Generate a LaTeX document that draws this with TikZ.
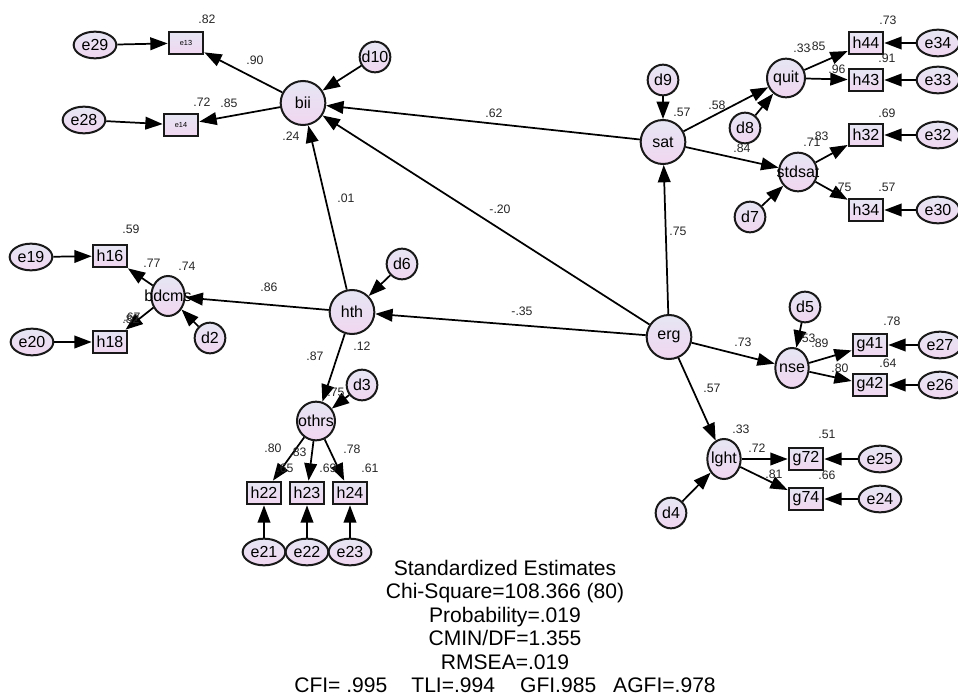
\documentclass[tikz,border=0pt]{standalone}
\usepackage{fontspec}
\setmainfont{Liberation Sans}
\usepackage{xcolor}
\usepackage{tikz}
\usetikzlibrary{shapes, arrows.meta, calc, positioning}

\definecolor{nodetop}{RGB}{230,230,244}
\definecolor{nodebot}{RGB}{240,214,240}

\begin{document}
\begin{tikzpicture}[x=0.75pt, y=-0.75pt, >={Triangle[length=13pt,width=9.5pt]},
    font=\fontsize{12}{13.5}\selectfont,
    amos/.style={draw=black!90, line width=1.5pt, top color=nodetop, bottom color=nodebot, inner sep=0pt},
    big/.style={amos, ellipse, minimum width=33.5pt, minimum height=33pt},
    mid/.style={amos, ellipse, minimum width=28.5pt, minimum height=29pt},
    slim/.style={amos, ellipse, minimum width=25pt, minimum height=30pt},
    dist/.style={amos, circle, minimum size=23pt},
    err/.style={amos, ellipse, minimum width=32pt, minimum height=20pt},
    obs/.style={amos, rectangle, minimum width=26pt, minimum height=17pt},
    est/.style={font=\fontsize{9.2}{10.5}\selectfont, text=black!85, inner sep=0pt},
    link/.style={->, line width=1.3pt}]
    \useasboundingbox (0,0) rectangle (958,696);

    % Latent variables
    \node [big, label=center:bii] (bii) at (303,103) {};
    \node [big, label=center:hth] (hth) at (352,312) {};
    \node [big, label=center:erg] (erg) at (669,337) {};
    \node [big, label=center:sat] (sat) at (663,142) {};
    \node [mid, label=center:quit] (quit) at (786,78) {};
    \node [mid, label=center:stdsat] (stdsat) at (798,172) {};
    \node [mid, label=center:othrs] (othrs) at (316,421) {};
    \node [slim, label=center:bdcms] (bdcms) at (168,296) {};
    \node [slim, label=center:nse] (nse) at (792,368) {};
    \node [slim, label=center:lght] (lght) at (724,459) {};

    % Disturbances
    \node [dist] (d10) at (375,57) {d10};
    \node [dist] (d9) at (663,80) {d9};
    \node [dist] (d8) at (745,128) {d8};
    \node [dist] (d7) at (750,217) {d7};
    \node [dist] (d6) at (402,264) {d6};
    \node [dist] (d5) at (805,307) {d5};
    \node [dist] (d4) at (671,513) {d4};
    \node [dist] (d3) at (362,385) {d3};
    \node [dist] (d2) at (210,338) {d2};

    % Observed items
    \node [obs, font=\fontsize{5.5}{6}\selectfont] (e13) at (186,43) {e13};
    \node [obs, font=\fontsize{5.5}{6}\selectfont] (e14) at (181,125) {e14};
    \node [obs] (h16) at (110,256) {h16};
    \node [obs] (h18) at (110,342) {h18};
    \node [obs] (h22) at (264,493) {h22};
    \node [obs] (h23) at (307,493) {h23};
    \node [obs] (h24) at (350,493) {h24};
    \node [obs] (h44) at (866,43) {h44};
    \node [obs] (h43) at (866,80) {h43};
    \node [obs] (h32) at (866,135) {h32};
    \node [obs] (h34) at (866,210) {h34};
    \node [obs] (g41) at (870,345) {g41};
    \node [obs] (g42) at (870,385) {g42};
    \node [obs] (g72) at (806,459) {g72};
    \node [obs] (g74) at (806,499) {g74};

    % Errors
    \node [err] (e29) at (95,45) {e29};
    \node [err] (e28) at (84,120) {e28};
    \node [err] (e19) at (31,257) {e19};
    \node [err] (e20) at (32,342) {e20};
    \node [err] (e21) at (264,552) {e21};
    \node [err] (e22) at (307,552) {e22};
    \node [err] (e23) at (350,552) {e23};
    \node [err] (e34) at (938,43) {e34};
    \node [err] (e33) at (938,80) {e33};
    \node [err] (e32) at (938,135) {e32};
    \node [err] (e30) at (938,210) {e30};
    \node [err] (e27) at (940,345) {e27};
    \node [err] (e26) at (940,385) {e26};
    \node [err] (e25) at (880,459) {e25};
    \node [err] (e24) at (880,499) {e24};

    % Structural paths
    \draw [link] (sat) -- (bii);
    \draw [link] (erg) -- (bii);
    \draw [link] (hth) -- (bii);
    \draw [link] (erg) -- (sat);
    \draw [link] (erg) -- (hth);
    \draw [link] (erg) -- (nse);
    \draw [link] (erg) -- (lght);
    \draw [link] (sat) -- (quit);
    \draw [link] (sat) -- (stdsat);
    \draw [link] (hth) -- (bdcms);
    \draw [link] (hth) -- (othrs);

    % Disturbance paths
    \draw [link] (d10) -- (bii);
    \draw [link] (d9) -- (sat);
    \draw [link] (d8) -- (quit);
    \draw [link] (d7) -- (stdsat);
    \draw [link] (d6) -- (hth);
    \draw [link] (d5) -- (nse);
    \draw [link] (d4) -- (lght);
    \draw [link] (d3) -- (othrs);
    \draw [link] (d2) -- (bdcms);

    % Loadings
    \draw [link] (bii) -- (e13);
    \draw [link] (bii) -- (e14);
    \draw [link] (bdcms) -- (h16);
    \draw [link] (bdcms) -- (h18);
    \draw [link] (othrs) -- (h22);
    \draw [link] (othrs) -- (h23);
    \draw [link] (othrs) -- (h24);
    \draw [link] (quit) -- (h44);
    \draw [link] (quit) -- (h43);
    \draw [link] (stdsat) -- (h32);
    \draw [link] (stdsat) -- (h34);
    \draw [link] (nse) -- (g41);
    \draw [link] (nse) -- (g42);
    \draw [link] (lght) -- (g72);
    \draw [link] (lght) -- (g74);

    % Error paths
    \draw [link] (e29) -- (e13);
    \draw [link] (e28) -- (e14);
    \draw [link] (e19) -- (h16);
    \draw [link] (e20) -- (h18);
    \draw [link] (e21) -- (h22);
    \draw [link] (e22) -- (h23);
    \draw [link] (e23) -- (h24);
    \draw [link] (e34) -- (h44);
    \draw [link] (e33) -- (h43);
    \draw [link] (e32) -- (h32);
    \draw [link] (e30) -- (h34);
    \draw [link] (e27) -- (g41);
    \draw [link] (e26) -- (g42);
    \draw [link] (e25) -- (g72);
    \draw [link] (e24) -- (g74);

    % Estimates
    \node [est] (r-e13) at (207,19) {.82};
    \node [est] (w-e13) at (255,60) {.90};
    \node [est] (r-e14) at (202,102) {.72};
    \node [est] (w-e14) at (229,103) {.85};
    \node [est] (r-bii) at (291,136) {.24};
    \node [est] (w-sat-bii) at (494,113) {.62};
    \node [est] (w-erg-bii) at (500,209) {-.20};
    \node [est] (w-hth-bii) at (346,198) {.01};
    \node [est] (r-sat) at (682,112) {.57};
    \node [est] (w-quit) at (717,105) {.58};
    \node [est] (w-stdsat) at (742,148) {.84};
    \node [est] (w-erg-sat) at (678,231) {.75};
    \node [est] (r-h44) at (888,20) {.73};
    \node [est] (r-quit) at (802,48) {.33};
    \node [est] (w-h44) at (817,46) {.85};
    \node [est] (r-h43) at (887,58) {.91};
    \node [est] (w-h43) at (837,69) {.96};
    \node [est] (r-h32) at (887,113) {.69};
    \node [est] (r-stdsat) at (812,142) {.71};
    \node [est] (w-h32) at (820,136) {.83};
    \node [est] (w-h34) at (843,187) {.75};
    \node [est] (r-h34) at (887,187) {.57};
    \node [est] (r-h16) at (131,229) {.59};
    \node [est] (w-h16) at (152,263) {.77};
    \node [est] (r-bdcms) at (187,266) {.74};
    \node [est] (w-bdcms) at (269,287) {.86};
    \node [est] (w-h18) at (131,319) {.82};
    \node [est] (r-h18) at (132,317) {.67};
    \node [est] (w-othrs) at (315,356) {.87};
    \node [est] (r-hth) at (362,346) {.12};
    \node [est] (w-erg-hth) at (522,311) {-.35};
    \node [est] (r-othrs) at (336,392) {.75};
    \node [est] (w-h22) at (273,448) {.80};
    \node [est] (w-h23) at (298,452) {.83};
    \node [est] (r-h22) at (285,468) {.65};
    \node [est] (r-h23) at (328,468) {.69};
    \node [est] (w-h24) at (352,449) {.78};
    \node [est] (r-h24) at (370,468) {.61};
    \node [est] (w-nse) at (743,342) {.73};
    \node [est] (r-nse) at (807,338) {.53};
    \node [est] (w-g41) at (820,343) {.89};
    \node [est] (r-g41) at (892,321) {.78};
    \node [est] (r-g42) at (888,363) {.64};
    \node [est] (w-g42) at (840,368) {.80};
    \node [est] (w-lght) at (712,388) {.57};
    \node [est] (r-lght) at (741,429) {.33};
    \node [est] (w-g72) at (757,448) {.72};
    \node [est] (r-g72) at (827,434) {.51};
    \node [est] (w-g74) at (774,474) {.81};
    \node [est] (r-g74) at (827,475) {.66};

    % Fit summary
    \node [align=center, inner sep=0pt, font=\fontsize{15.8}{17.55}\selectfont] (stats) at (505,626.5)
        {Standardized Estimates\\Chi-Square=108.366 (80)\\Probability=.019\\CMIN/DF=1.355\\RMSEA=.019\\CFI= .995\hspace{18pt}TLI=.994\hspace{18.75pt}GFI.985\hspace{12.75pt}AGFI=.978};
\end{tikzpicture}
\end{document}
